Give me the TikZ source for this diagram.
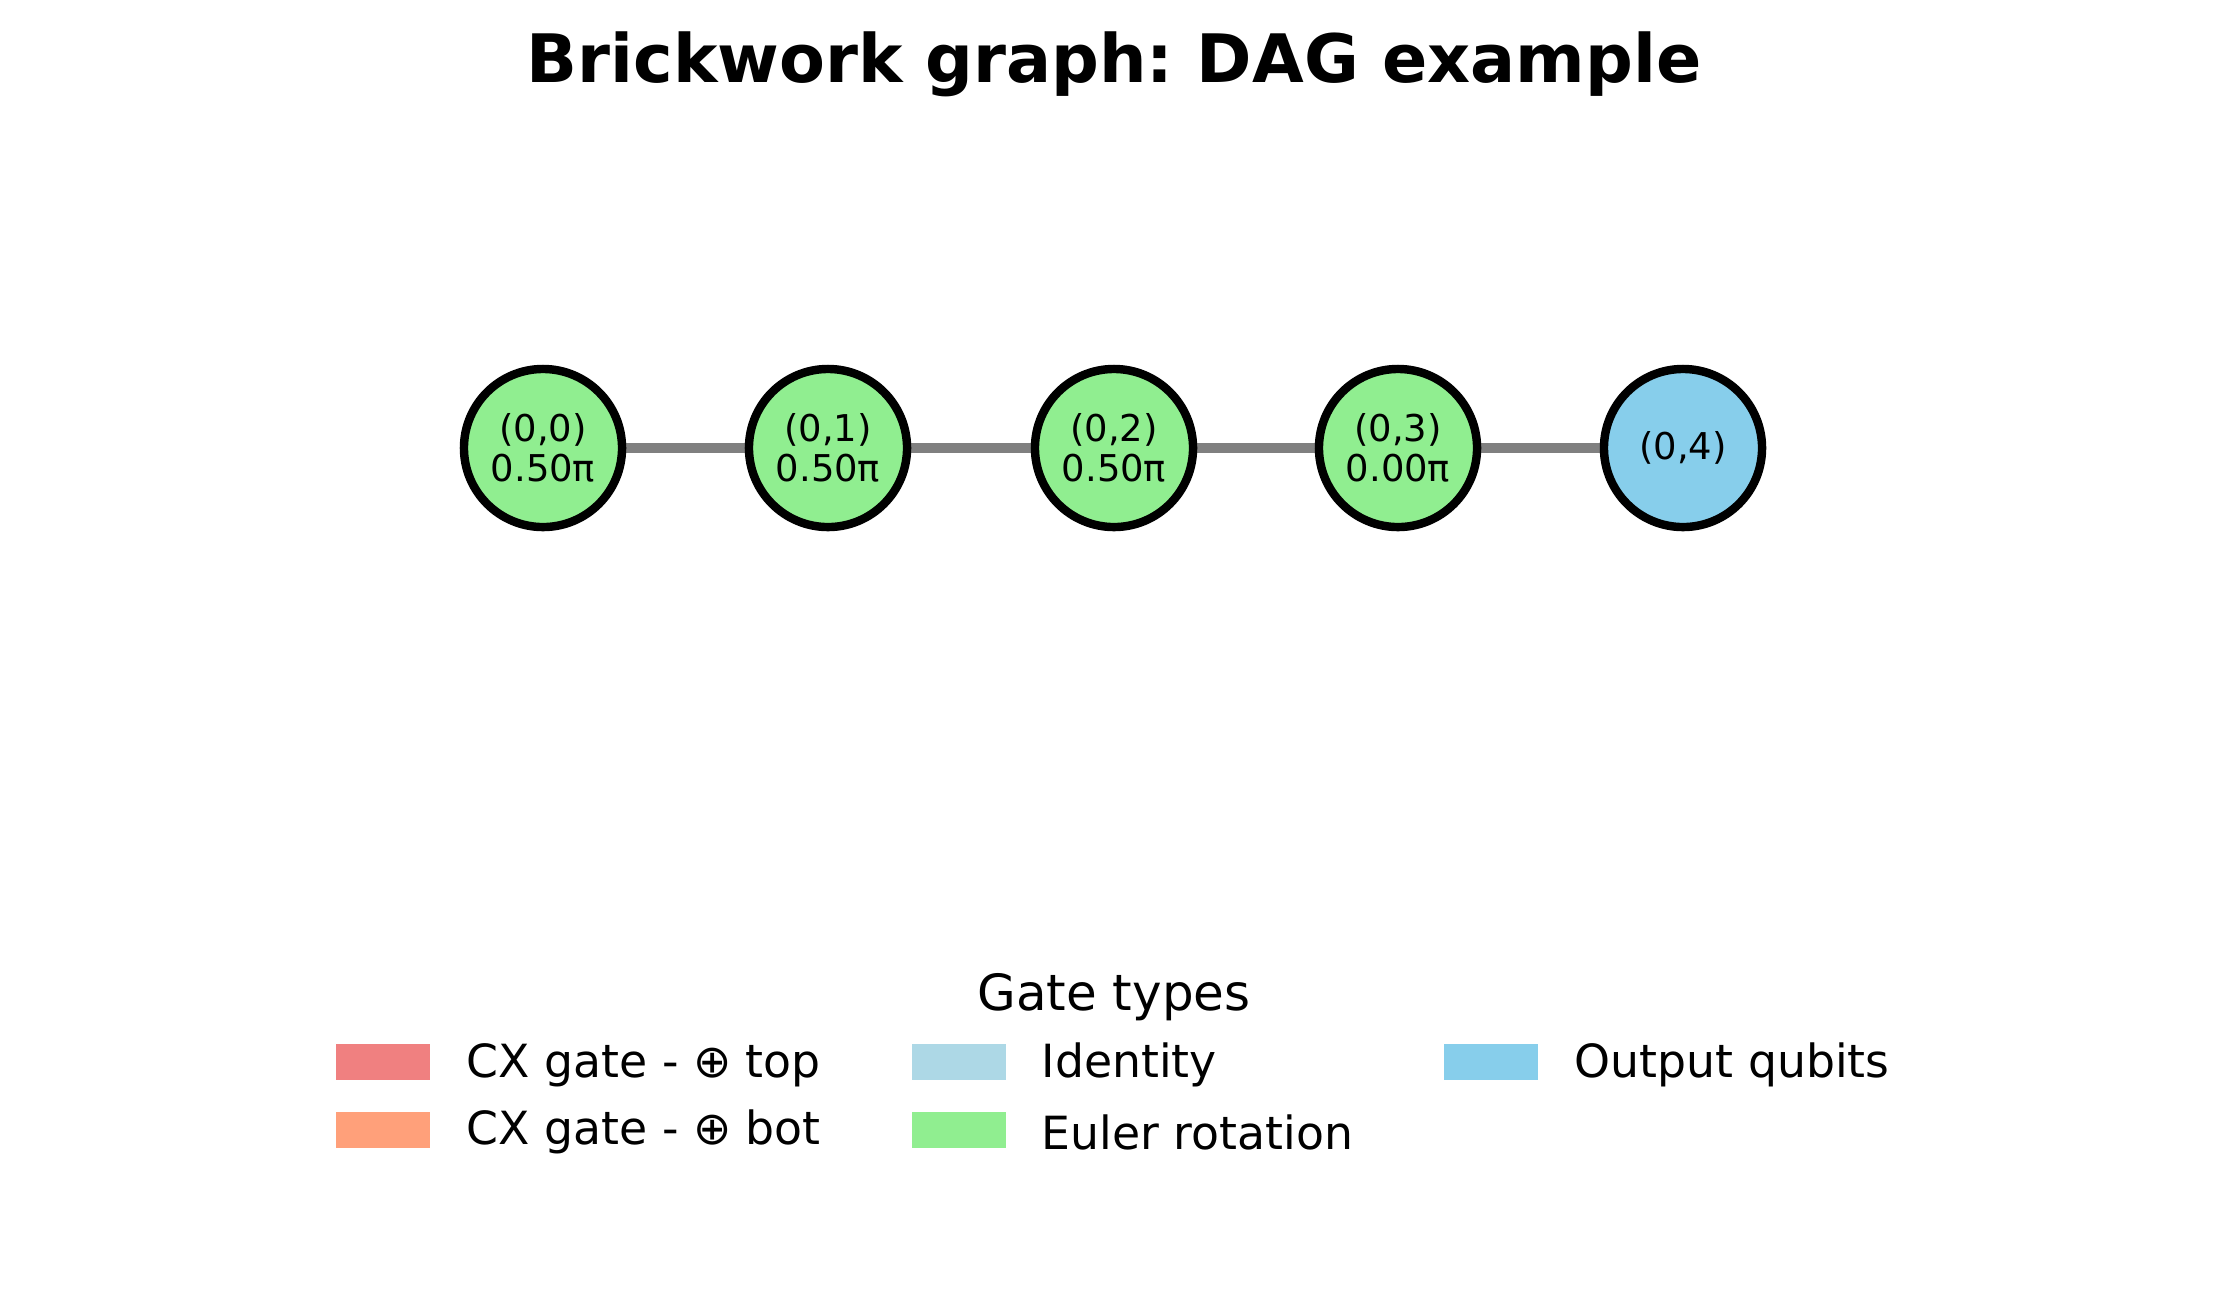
\documentclass[tikz,border=0pt]{standalone}
\usepackage{fontspec}
\setmainfont{DejaVu Sans}
\frenchspacing
\usetikzlibrary{backgrounds}
\definecolor{eulergreen}{HTML}{90EE90}
\definecolor{outblue}{HTML}{87CEEB}
\definecolor{cxtop}{HTML}{F08080}
\definecolor{cxbot}{HTML}{FFA07A}
\definecolor{idblue}{HTML}{ADD8E6}
\definecolor{linkgray}{HTML}{808080}
\tikzset{
  qnode/.style={draw,circle,line width=2.4pt,minimum size=1.58cm,inner sep=0pt,
    align=center,font=\fontsize{10.5}{11.5}\selectfont},
  euler/.style={qnode,fill=eulergreen},
  outq/.style={qnode,fill=outblue},
  link/.style={draw=linkgray,line width=3.1pt},
  patch/.style={rectangle,minimum width=0.94cm,minimum height=0.36cm,inner sep=0pt},
  legtext/.style={anchor=west,inner sep=0pt,font=\fontsize{13}{15.6}\selectfont}
}
\begin{document}
\begin{tikzpicture}[x=0.01cm,y=-0.01cm]
\useasboundingbox (0,0) rectangle (2227,1311);
\node[anchor=base,font=\fontsize{19}{23}\selectfont\bfseries] (title) at (1114,82) {Brickwork graph: DAG example};
% qubit chain
\node[euler] (q0) at (543,448) {(0,0)\\0.50π};
\node[euler] (q1) at (828,448) {(0,1)\\0.50π};
\node[euler] (q2) at (1114,448) {(0,2)\\0.50π};
\node[euler] (q3) at (1398,448) {(0,3)\\0.00π};
\node[outq] (q4) at (1683,448) {(0,4)};
\begin{scope}[on background layer]
\draw[link] (q0) -- (q1);
\draw[link] (q1) -- (q2);
\draw[link] (q2) -- (q3);
\draw[link] (q3) -- (q4);
\end{scope}
% legend
\node[anchor=base,font=\fontsize{14.2}{17}\selectfont] (legtitle) at (1114,1010) {Gate types};
\node[patch,fill=cxtop] (p1) at (383,1062) {};
\node[patch,fill=cxbot] (p2) at (383,1130) {};
\node[patch,fill=idblue] (p3) at (959,1062) {};
\node[patch,fill=eulergreen] (p4) at (959,1130) {};
\node[patch,fill=outblue] (p5) at (1491,1062) {};
\node[legtext] (t1) at (466,1065) {CX gate - ⊕ top};
\node[legtext] (t2) at (466,1132) {CX gate - ⊕ bot};
\node[legtext] (t3) at (1041,1065) {Identity};
\node[legtext] (t4) at (1041,1132) {Euler rotation};
\node[legtext] (t5) at (1574,1065) {Output qubits};
\end{tikzpicture}
\end{document}
